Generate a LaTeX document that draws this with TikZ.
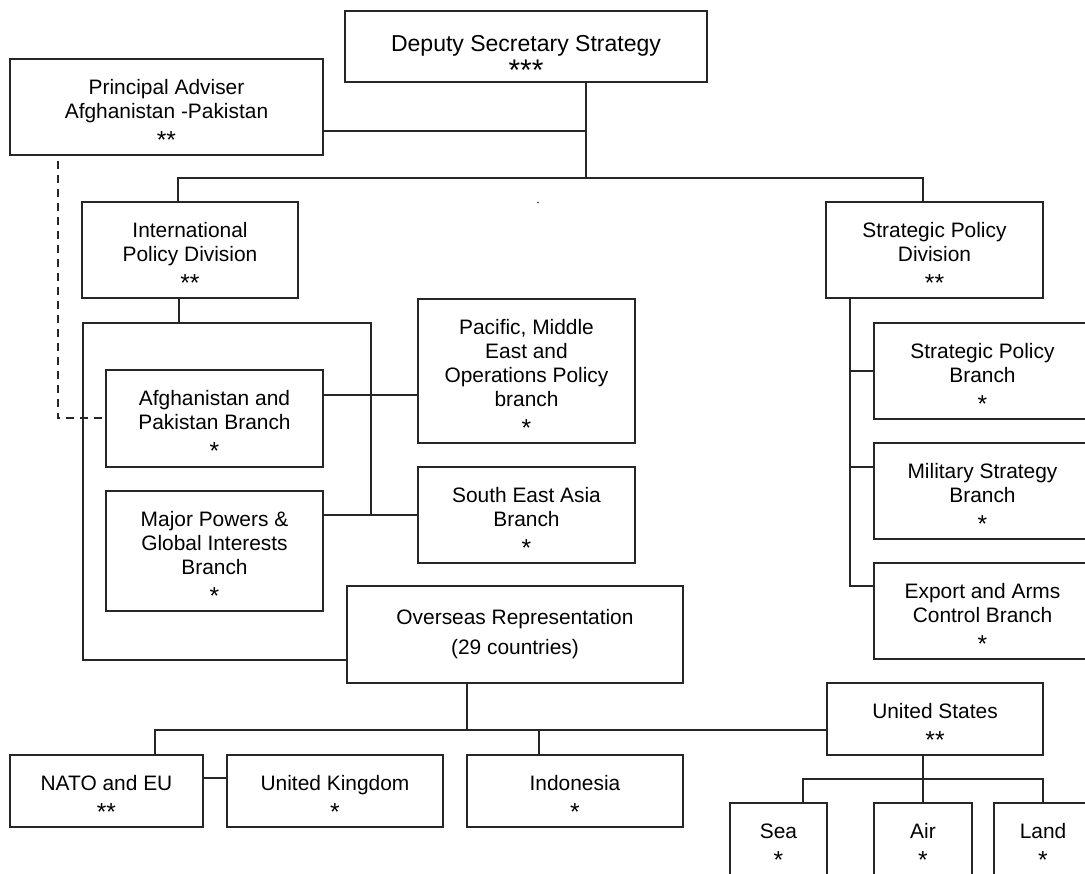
\documentclass[tikz,border=0pt]{standalone}
\usepackage{fontspec}
\setmainfont{Liberation Sans}
\usepackage{tikz}
\usetikzlibrary{calc}
\definecolor{linegray}{HTML}{262626}
\newcommand{\orgfont}{\fontsize{11.9}{13.66}\selectfont}
\newcommand{\topline}{\rule{0pt}{0.574cm}}
\newcommand{\grade}[1]{\\[0.12cm]{\fontsize{14}{14}\selectfont #1}}

\begin{document}
\begin{tikzpicture}[
  x=0.02cm,y=-0.02cm,
  box/.style 2 args={draw=linegray,line width=0.04cm,
                     minimum width=#1*0.02cm,minimum height=#2*0.02cm,
                     inner sep=0pt,align=center,font=\orgfont},
  link/.style={draw=linegray,line width=0.04cm},
  dashlink/.style={link,dash pattern=on 0.16cm off 0.12cm}
]
\useasboundingbox (0,0) rectangle (1085,874);
\node[box={362}{71},font=\fontsize{13.1}{15}\selectfont] (dss) at (526,46.5)
  {\rule{0pt}{0.78cm}Deputy Secretary Strategy\\[0.04cm]{\fontsize{17}{17}\selectfont ***}};
\node[box={313}{96}] (pa) at (166.5,107) {\topline Principal Adviser\\Afghanistan -Pakistan\grade{**}};
\node[box={216}{96}] (ipd) at (190,250) {\topline International\\Policy Division\grade{**}};
\node[box={217}{96}] (spd) at (934.5,250) {\topline Strategic Policy\\Division\grade{**}};
\node[box={217}{144}] (pmo) at (526.5,371)
  {\topline Pacific, Middle\\East and\\Operations Policy\\branch\grade{*}};
\node[box={217}{97}] (afg) at (214.5,418.5) {\topline Afghanistan and\\Pakistan Branch\grade{*}};
\node[box={217}{96}] (sea) at (526.5,515) {\topline South East Asia\\Branch\grade{*}};
\node[box={217}{120}] (mpg) at (214.5,551) {\topline Major Powers \&\\Global Interests\\Branch\grade{*}};
\node[box={217}{96}] (spb) at (982.5,371) {\topline Strategic Policy\\Branch\grade{*}};
\node[box={217}{96}] (msb) at (982.5,491) {\topline Military Strategy\\Branch\grade{*}};
\node[box={217}{96}] (eac) at (982.5,611) {\topline Export and Arms\\Control Branch\grade{*}};
\node[box={336}{97}] (osr) at (515,634.5)
  {Overseas Representation\\[0.12cm](29 countries)\rule[-0.1cm]{0pt}{0pt}};
\node[box={216}{72}] (us) at (935,719) {\topline United States\grade{**}};
\node[box={193}{72}] (nato) at (106.5,791) {\topline NATO and EU\grade{**}};
\node[box={216}{72}] (uk) at (335,791) {\topline United Kingdom\grade{*}};
\node[box={216}{72}] (ind) at (575,791) {\topline Indonesia\grade{*}};
\node[box={97}{72}] (navy) at (778.5,839) {\topline Sea\grade{*}};
\node[box={98}{72}] (air) at (923,839) {\topline Air\grade{*}};
\node[box={98}{72}] (land) at (1043,839) {\topline Land\grade{*}};
\fill[linegray] (538,202.5) circle (0.9);

% top level
\coordinate (top) at ($(dss.south)+(60,0)$);
\coordinate (hub) at (586,178);
\coordinate (pa-out) at ($(pa.east)+(0,24)$);
\draw[link] (top) -- (hub);
\draw[link] (pa-out) -- (pa-out -| hub);
\draw[link] ($(ipd.north)+(-12,0)$) |- (hub) -| ($(spd.north)+(-11.5,0)$);

% international policy
\coordinate (ipd-bar) at ($(ipd.south)+(-11,24)$);
\coordinate (ipd-left) at ($(afg.west)+(-22,0)$);
\coordinate (ipd-right) at ($(afg.east)+(47,0)$);
\coordinate (osr-in) at ($(osr.south west)+(0,-24)$);
\coordinate (afg-out) at ($(afg.east)+(0,-23.5)$);
\draw[link] (ipd.south -| ipd-bar) -- (ipd-bar);
\draw[link] (sea.west -| ipd-right) |- (ipd-bar -| ipd-left) |- (osr-in);
\draw[link] (afg-out) -- (afg-out -| pmo.west);
\draw[link] (sea.west) -- (sea.west -| mpg.east);
\coordinate (pa-dash) at ($(pa.south west)+(49,5)$);
\draw[dashlink] (pa-dash) |- (afg.west);

% strategic policy
\coordinate (spd-bar) at ($(spd.south west)+(25,0)$);
\coordinate (msb-in) at ($(msb.west)+(0,-24)$);
\coordinate (eac-in) at ($(eac.west)+(0,-25)$);
\draw[link] (spd-bar) |- (eac-in);
\draw[link] (spb.west) -- (spb.west -| spd-bar);
\draw[link] (msb-in) -- (msb-in -| spd-bar);

% overseas
\coordinate (osr-bar) at ($(osr.south)+(-48,46)$);
\coordinate (us-in) at ($(us.west)+(0,11)$);
\coordinate (ind-in) at ($(ind.north)+(-36,0)$);
\coordinate (nato-out) at ($(nato.east)+(0,-13)$);
\draw[link] (osr.south -| osr-bar) -- (osr-bar);
\draw[link] ($(nato.north)+(48.5,0)$) |- (us-in);
\draw[link] (ind-in) -- (ind-in |- osr-bar);
\draw[link] (nato-out) -- (nato-out -| uk.west);

% united states
\coordinate (us-bar) at ($(us.south)+(-12,23)$);
\draw[link] (us.south -| us-bar) -- (us-bar);
\draw[link] ($(navy.north)+(24.5,0)$) |- (us-bar) -| (land.north);
\draw[link] (air.north) -- (air.north |- us-bar);
\end{tikzpicture}
\end{document}
